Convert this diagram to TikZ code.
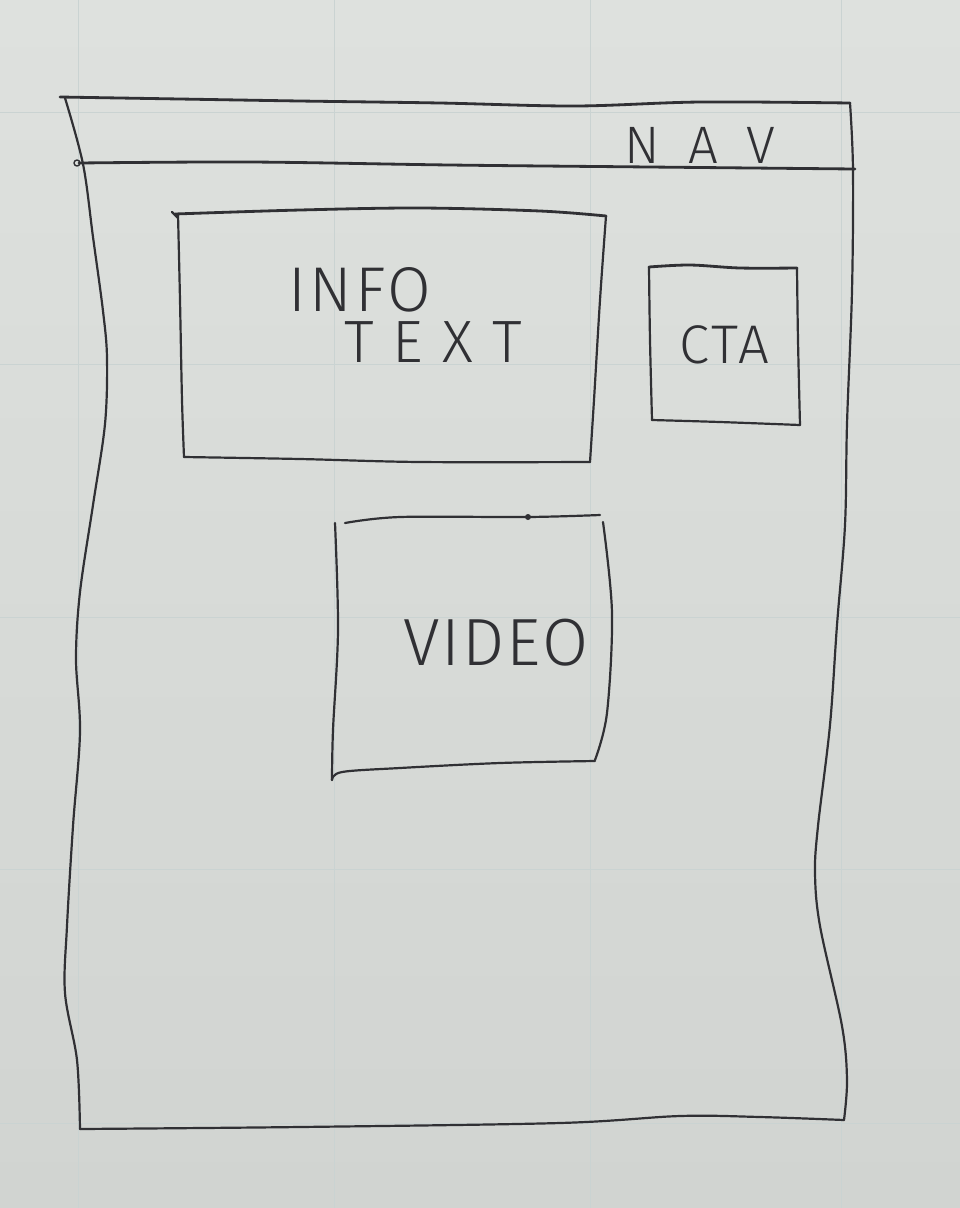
\documentclass[tikz,border=0pt]{standalone}
\usepackage{fontspec}
\setmainfont{Fira Sans}[UprightFont=* Light]
\definecolor{paper}{HTML}{DEE1DE}
\definecolor{paperlow}{HTML}{D1D4D1}
\definecolor{gridline}{HTML}{CAD3D2}
\definecolor{ink}{HTML}{303034}
\tikzset{
  pencil/.style={draw=ink, line width=1.25pt, line cap=round, line join=round},
  heavy/.style={pencil, line width=1.6pt},
  sketch/.style={smooth, tension=0.55},
  lettering/.style={text=ink, inner sep=0pt, anchor=center},
  grid line/.style={draw=gridline, line width=0.5pt}
}
\begin{document}
\begin{tikzpicture}[x=0.02cm, y=-0.02cm]
  % squared paper
  \shade[top color=paper, bottom color=paperlow] (0,0) rectangle (960,1208);
  \useasboundingbox (0,0) rectangle (960,1208);
  \foreach \gx in {78,334,590,841} \draw[grid line] (\gx,0) -- (\gx,1208);
  \foreach \gy in {112,364,617,869,1123} \draw[grid line] (0,\gy) -- (960,\gy);

  % page frame
  \draw[heavy] plot[sketch] coordinates {(60,97) (180,99) (300,101) (440,103) (575,106) (700,102) (850,103)};
  \draw[pencil] plot[sketch] coordinates {(850,103) (853,170) (852,291) (847,424) (845,525) (837,625) (830,725) (818,826) (815,873) (820,926) (842,1026) (847,1080) (844,1120)};
  \draw[pencil] plot[sketch] coordinates {(844,1120) (760,1117) (680,1116) (560,1123) (300,1127) (80,1129)};
  \draw[pencil] plot[sketch] coordinates {(80,1129) (77,1060) (65,993) (67,926) (73,826) (80,732) (76,659) (80,592) (93,505) (105,424) (107,358) (103,311) (93,237) (83,164) (65,98)};

  % navigation bar
  \draw[heavy] plot[sketch] coordinates {(79,163) (250,162) (450,165) (650,167) (855,169)};
  \draw[pencil, line width=0.8pt] (77,163) circle (3);
  \node[lettering, font=\fontsize{30}{30}\selectfont\addfontfeature{LetterSpace=54}] (nav) at (700,145) {NAV};

  % info text block
  \draw[heavy] plot[sketch] coordinates {(175,214) (300,210) (420,208) (540,211) (606,216)};
  \draw[pencil] (172,212) -- (178,218);
  \draw[pencil] plot[sketch] coordinates {(178,214) (180,300) (182,400) (184,457)};
  \draw[pencil] plot[sketch] coordinates {(606,216) (600,300) (594,400) (590,462)};
  \draw[pencil] plot[sketch] coordinates {(184,457) (300,459) (420,462) (590,462)};
  \node[lettering, font=\fontsize{36}{36}\selectfont\addfontfeature{LetterSpace=5}] (info) at (360,290) {INFO};
  \node[lettering, font=\fontsize{34}{34}\selectfont\addfontfeature{LetterSpace=32}] (text) at (433,342) {TEXT};

  % call to action
  \draw[heavy] plot[sketch] coordinates {(649,267) (690,265) (740,268) (797,268)};
  \draw[pencil] plot[sketch] coordinates {(649,267) (650,340) (652,420)};
  \draw[pencil] plot[sketch] coordinates {(797,268) (798,340) (800,425)};
  \draw[pencil] plot[sketch] coordinates {(652,420) (720,422) (800,425)};
  \node[lettering, font=\fontsize{31}{31}\selectfont\addfontfeature{LetterSpace=5}] (cta) at (724,345) {CTA};

  % video block
  \draw[pencil] plot[sketch] coordinates {(345,523) (400,517) (528,517) (600,515)};
  \fill[ink] (528,517) circle (3);
  \draw[pencil] plot[sketch] coordinates {(335,523) (338,630) (333,730) (332,780)};
  \draw[pencil] plot[sketch] coordinates {(603,522) (612,613) (607,713) (595,760)};
  \draw[pencil] plot[sketch] coordinates {(332,780) (342,772) (400,768) (500,763) (595,761)};
  \node[lettering, font=\fontsize{38}{38}\selectfont\addfontfeature{LetterSpace=3}] (video) at (496,643) {VIDEO};
\end{tikzpicture}
\end{document}
